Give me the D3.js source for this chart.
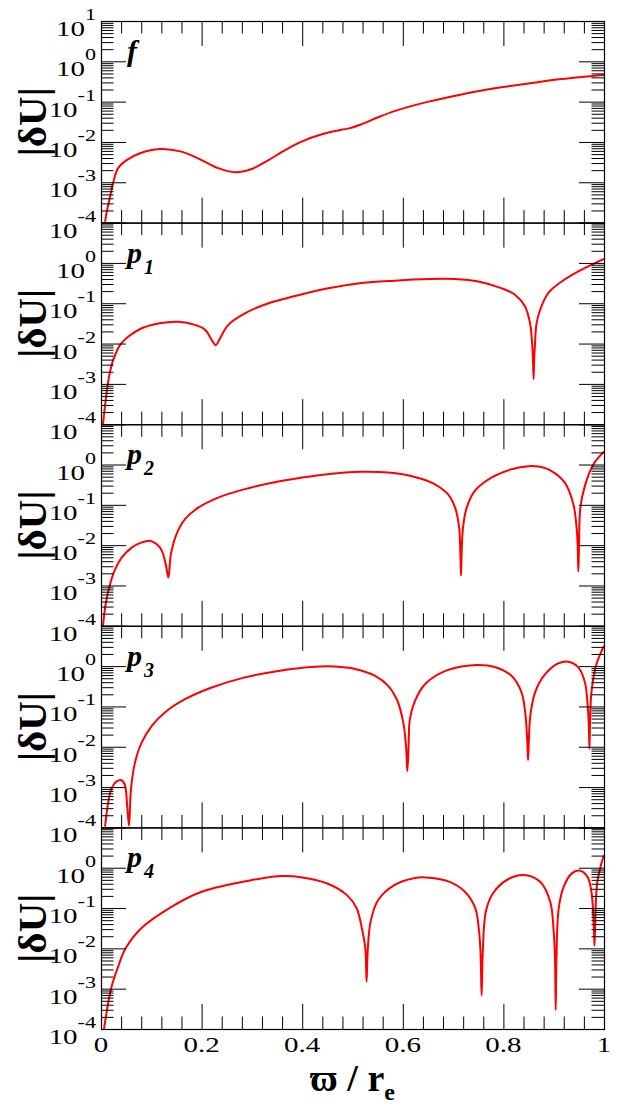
<!DOCTYPE html>
<html>
<head>
<meta charset="utf-8">
<script src="https://cdn.jsdelivr.net/npm/d3@7"></script>
<style>
  body { margin: 0; background: #fff; }
  text { font-family: "Liberation Serif", "Times New Roman", Tinos, Times, serif; }
</style>
</head>
<body>
<svg id="chart" width="618" height="1108"></svg>
<script>
// x axis
const xTicks = [0, 0.2, 0.4, 0.6, 0.8, 1];
const xTickLabels = ["0", "0.2", "0.4", "0.6", "0.8", "1"];
// y axis decades (10^e)
const yExponents = [1, 0, -1, -2, -3, -4];

// panel labels
const panelNames = ["f", "p", "p", "p", "p"];
const panelSubs = ["", "1", "2", "3", "4"];

// |dU|
const fX = [0.008, 0.011, 0.018, 0.0245, 0.034, 0.051, 0.0775, 0.117, 0.160, 0.200, 0.233, 0.266, 0.2995, 0.333, 0.366, 0.399, 0.439, 0.478, 0.495, 0.518, 0.551, 0.585, 0.651, 0.717, 0.783, 0.850, 0.916, 1.0];
const fY = [1.05e-4, 1.74e-4, 4.4e-4, 1.02e-3, 2.24e-3, 3.55e-3, 5.25e-3, 6.7e-3, 5.75e-3, 3.55e-3, 2.24e-3, 1.78e-3, 2.14e-3, 3.55e-3, 6.3e-3, 1.02e-2, 1.55e-2, 2.0e-2, 2.2e-2, 2.75e-2, 4.1e-2, 5.9e-2, 0.1, 0.151, 0.214, 0.282, 0.363, 0.457];

const p1X = [0.004, 0.0093, 0.016, 0.0245, 0.038, 0.054, 0.081, 0.114, 0.154, 0.187, 0.207, 0.220, 0.228, 0.2366, 0.253, 0.286, 0.333, 0.386, 0.452, 0.518, 0.584, 0.651, 0.704, 0.750, 0.797, 0.823, 0.843, 0.853, 0.8575, 0.8588, 0.860, 0.8612, 0.8625, 0.866, 0.873, 0.889, 0.916, 0.949, 1.0];
const p1Y = [1e-4, 3.98e-4, 1.51e-3, 3.98e-3, 9.3e-3, 1.48e-2, 2.4e-2, 3.16e-2, 3.47e-2, 2.9e-2, 2.2e-2, 1.23e-2, 9.1e-3, 1.35e-2, 2.9e-2, 5.6e-2, 0.1, 0.151, 0.234, 0.316, 0.363, 0.398, 0.398, 0.347, 0.234, 0.162, 8.3e-2, 3.16e-2, 8.5e-3, 4e-3, 1.32e-3, 4e-3, 8.5e-3, 3.2e-2, 6.8e-2, 0.178, 0.347, 0.617, 1.26];

const p2X = [0.004, 0.0093, 0.018, 0.028, 0.041, 0.061, 0.081, 0.097, 0.111, 0.121, 0.1286, 0.134, 0.139, 0.150, 0.167, 0.1935, 0.233, 0.286, 0.3525, 0.419, 0.485, 0.518, 0.571, 0.624, 0.664, 0.690, 0.704, 0.712, 0.7143, 0.7157, 0.7171, 0.7197, 0.727, 0.7435, 0.777, 0.816, 0.850, 0.8695, 0.896, 0.922, 0.939, 0.946, 0.9478, 0.949, 0.9502, 0.953, 0.962, 0.979, 1.0];
const p2Y = [1e-4, 3.47e-4, 1.07e-3, 2.5e-3, 4.9e-3, 8.7e-3, 1.17e-2, 1.29e-2, 1.05e-2, 7.2e-3, 3.4e-3, 1.58e-3, 6.0e-3, 1.86e-2, 4.4e-2, 8.5e-2, 0.151, 0.245, 0.38, 0.513, 0.63, 0.66, 0.63, 0.49, 0.324, 0.182, 8.5e-2, 2.75e-2, 7e-3, 1.74e-3, 7e-3, 2.75e-2, 8.5e-2, 0.224, 0.479, 0.76, 0.91, 0.89, 0.69, 0.355, 0.105, 2.3e-2, 8e-3, 2.24e-3, 8e-3, 8.5e-2, 0.295, 1.02, 2.09];

const p3X = [0.008, 0.0146, 0.021, 0.031, 0.041, 0.0477, 0.052, 0.0557, 0.0596, 0.0676, 0.081, 0.101, 0.127, 0.167, 0.220, 0.286, 0.3525, 0.419, 0.465, 0.505, 0.545, 0.571, 0.588, 0.601, 0.6065, 0.609, 0.6115, 0.614, 0.624, 0.644, 0.677, 0.717, 0.750, 0.783, 0.816, 0.836, 0.844, 0.8475, 0.849, 0.8505, 0.8535, 0.863, 0.883, 0.909, 0.929, 0.949, 0.962, 0.9675, 0.9698, 0.971, 0.9722, 0.975, 0.985, 1.0];
const p3Y = [1.05e-4, 4.4e-4, 9.3e-4, 1.38e-3, 1.48e-3, 1.1e-3, 3.47e-4, 1.1e-4, 8.9e-4, 4.1e-3, 1.29e-2, 3.3e-2, 7.1e-2, 0.151, 0.295, 0.525, 0.76, 0.955, 0.977, 0.85, 0.575, 0.324, 0.151, 3.98e-2, 1e-2, 2.5e-3, 1e-2, 4.8e-2, 0.135, 0.355, 0.69, 0.977, 1.07, 0.955, 0.575, 0.224, 5.9e-2, 1.3e-2, 4.7e-3, 1.3e-2, 5.9e-2, 0.224, 0.63, 1.17, 1.29, 0.93, 0.398, 0.105, 3.5e-2, 8.9e-3, 3.5e-2, 0.224, 1.12, 3.16];

const p4X = [0.006, 0.020, 0.034, 0.049, 0.080, 0.136, 0.200, 0.300, 0.360, 0.400, 0.450, 0.489, 0.508, 0.520, 0.5255, 0.528, 0.5305, 0.536, 0.551, 0.583, 0.622, 0.645, 0.693, 0.724, 0.744, 0.751, 0.7545, 0.7567, 0.759, 0.765, 0.779, 0.810, 0.842, 0.873, 0.893, 0.900, 0.9025, 0.904, 0.9055, 0.910, 0.920, 0.936, 0.951, 0.967, 0.975, 0.9795, 0.981, 0.9825, 0.986, 0.994, 1.0];
const p4Y = [1e-4, 1e-3, 3.5e-3, 1e-2, 3.16e-2, 0.1, 0.254, 0.494, 0.62, 0.575, 0.407, 0.209, 0.1, 2.57e-2, 1e-2, 1.48e-3, 1e-2, 4.6e-2, 0.158, 0.372, 0.55, 0.575, 0.447, 0.251, 0.1, 3.16e-2, 8e-3, 6.8e-4, 8e-3, 8.1e-2, 0.229, 0.525, 0.66, 0.447, 0.145, 2.57e-2, 6e-3, 2.95e-4, 6e-3, 0.1, 0.339, 0.724, 0.85, 0.6, 0.251, 4e-2, 1.15e-2, 4e-2, 0.372, 1.17, 2.04];

const seriesX = [fX, p1X, p2X, p3X, p4X];
const seriesY = [fY, p1Y, p2Y, p3Y, p4Y];

const left = 101, right = 604, top0 = 21, panelH = 201.6;
const majorLen = 25, minorLen = 12.5;
const labelStretch = 1.38;

const svg = d3.select("#chart");

const x = d3.scaleLinear().domain([0, 1]).range([left, right]);
const xMinor = d3.range(1, 25).filter(i => i % 5 !== 0).map(i => i * 0.04);

const yMajor = yExponents.map(e => Math.pow(10, e));
const yMinor = [];
for (let e = -4; e < 1; e++) {
  for (let m = 2; m <= 9; m++) yMinor.push(m * Math.pow(10, e));
}

const line = d3.line().curve(d3.curveCatmullRom.alpha(0.5));

function tickGroup(g, axis, values, size, tx, ty) {
  g.append("g")
    .attr("transform", `translate(${tx},${ty})`)
    .call(axis.tickValues(values).tickSize(size).tickFormat(""))
    .call(a => a.select(".domain").remove())
    .selectAll("line").attr("stroke", "#000").attr("stroke-width", 1);
}

seriesX.forEach((xs, i) => {
  const top = top0 + i * panelH, bottom = top + panelH;
  const y = d3.scaleLog().domain([1e-4, 10]).range([bottom, top]);
  const g = svg.append("g");

  g.append("clipPath").attr("id", "clip" + i)
    .append("rect").attr("x", left).attr("y", top).attr("width", right - left).attr("height", panelH);

  // curve
  const pts = xs.map((v, k) => [x(v), y(seriesY[i][k])]);
  g.append("path")
    .attr("clip-path", `url(#clip${i})`)
    .attr("d", line(pts))
    .attr("fill", "none")
    .attr("stroke", "#ff0000")
    .attr("stroke-width", 2);

  // ticks, pointing inward on all four sides
  tickGroup(g, d3.axisBottom(x), xTicks, -majorLen, 0, bottom);
  tickGroup(g, d3.axisBottom(x), xMinor, -minorLen, 0, bottom);
  tickGroup(g, d3.axisTop(x), xTicks, -majorLen, 0, top);
  tickGroup(g, d3.axisTop(x), xMinor, -minorLen, 0, top);
  tickGroup(g, d3.axisLeft(y), yMajor, -majorLen, left, 0);
  tickGroup(g, d3.axisLeft(y), yMinor, -minorLen, left, 0);
  tickGroup(g, d3.axisRight(y), yMajor, -majorLen, right, 0);
  tickGroup(g, d3.axisRight(y), yMinor, -minorLen, right, 0);

  // frame
  g.append("rect")
    .attr("x", left + 0.5).attr("y", top + 0.5)
    .attr("width", right - left).attr("height", panelH)
    .attr("fill", "none").attr("stroke", "#000").attr("stroke-width", 1.2);

  // y tick labels (top decade only on the first panel)
  const exps = i === 0 ? yExponents : yExponents.slice(1);
  exps.forEach(e => {
    const t = g.append("text")
      .attr("transform", `translate(96,${y(Math.pow(10, e)) + 15}) scale(${labelStretch},1)`)
      .attr("text-anchor", "end")
      .attr("font-size", 21)
      .attr("fill", "#000");
    t.append("tspan").text("10");
    t.append("tspan").attr("dy", -16).attr("font-size", 16).text(e);
  });

  // panel name
  const nm = g.append("text")
    .attr("x", 127).attr("y", top + 40)
    .attr("font-size", 30).attr("font-weight", "bold").attr("font-style", "italic");
  nm.append("tspan").text(panelNames[i]);
  if (panelSubs[i]) nm.append("tspan").attr("dx", 2).attr("dy", 11).attr("font-size", 20).text(panelSubs[i]);

  // y title
  g.append("text")
    .attr("transform", `translate(46,${top + panelH / 2}) rotate(-90)`)
    .attr("text-anchor", "middle")
    .attr("font-size", 41).attr("font-weight", "bold")
    .text("|\u03B4U|");
});

// x tick labels
const bottomY = top0 + 5 * panelH;
xTicks.forEach((v, k) => {
  svg.append("text")
    .attr("transform", `translate(${x(v)},${bottomY + 23}) scale(${labelStretch},1)`)
    .attr("text-anchor", "middle")
    .attr("font-size", 21)
    .text(xTickLabels[k]);
});

// x title
const xt = svg.append("text")
  .attr("x", (left + right) / 2).attr("y", bottomY + 62)
  .attr("text-anchor", "middle")
  .attr("font-size", 38).attr("font-weight", "bold");
xt.append("tspan").text("\u03D6 / r");
xt.append("tspan").attr("dy", 9).attr("font-size", 24).text("e");
</script>
</body>
</html>
